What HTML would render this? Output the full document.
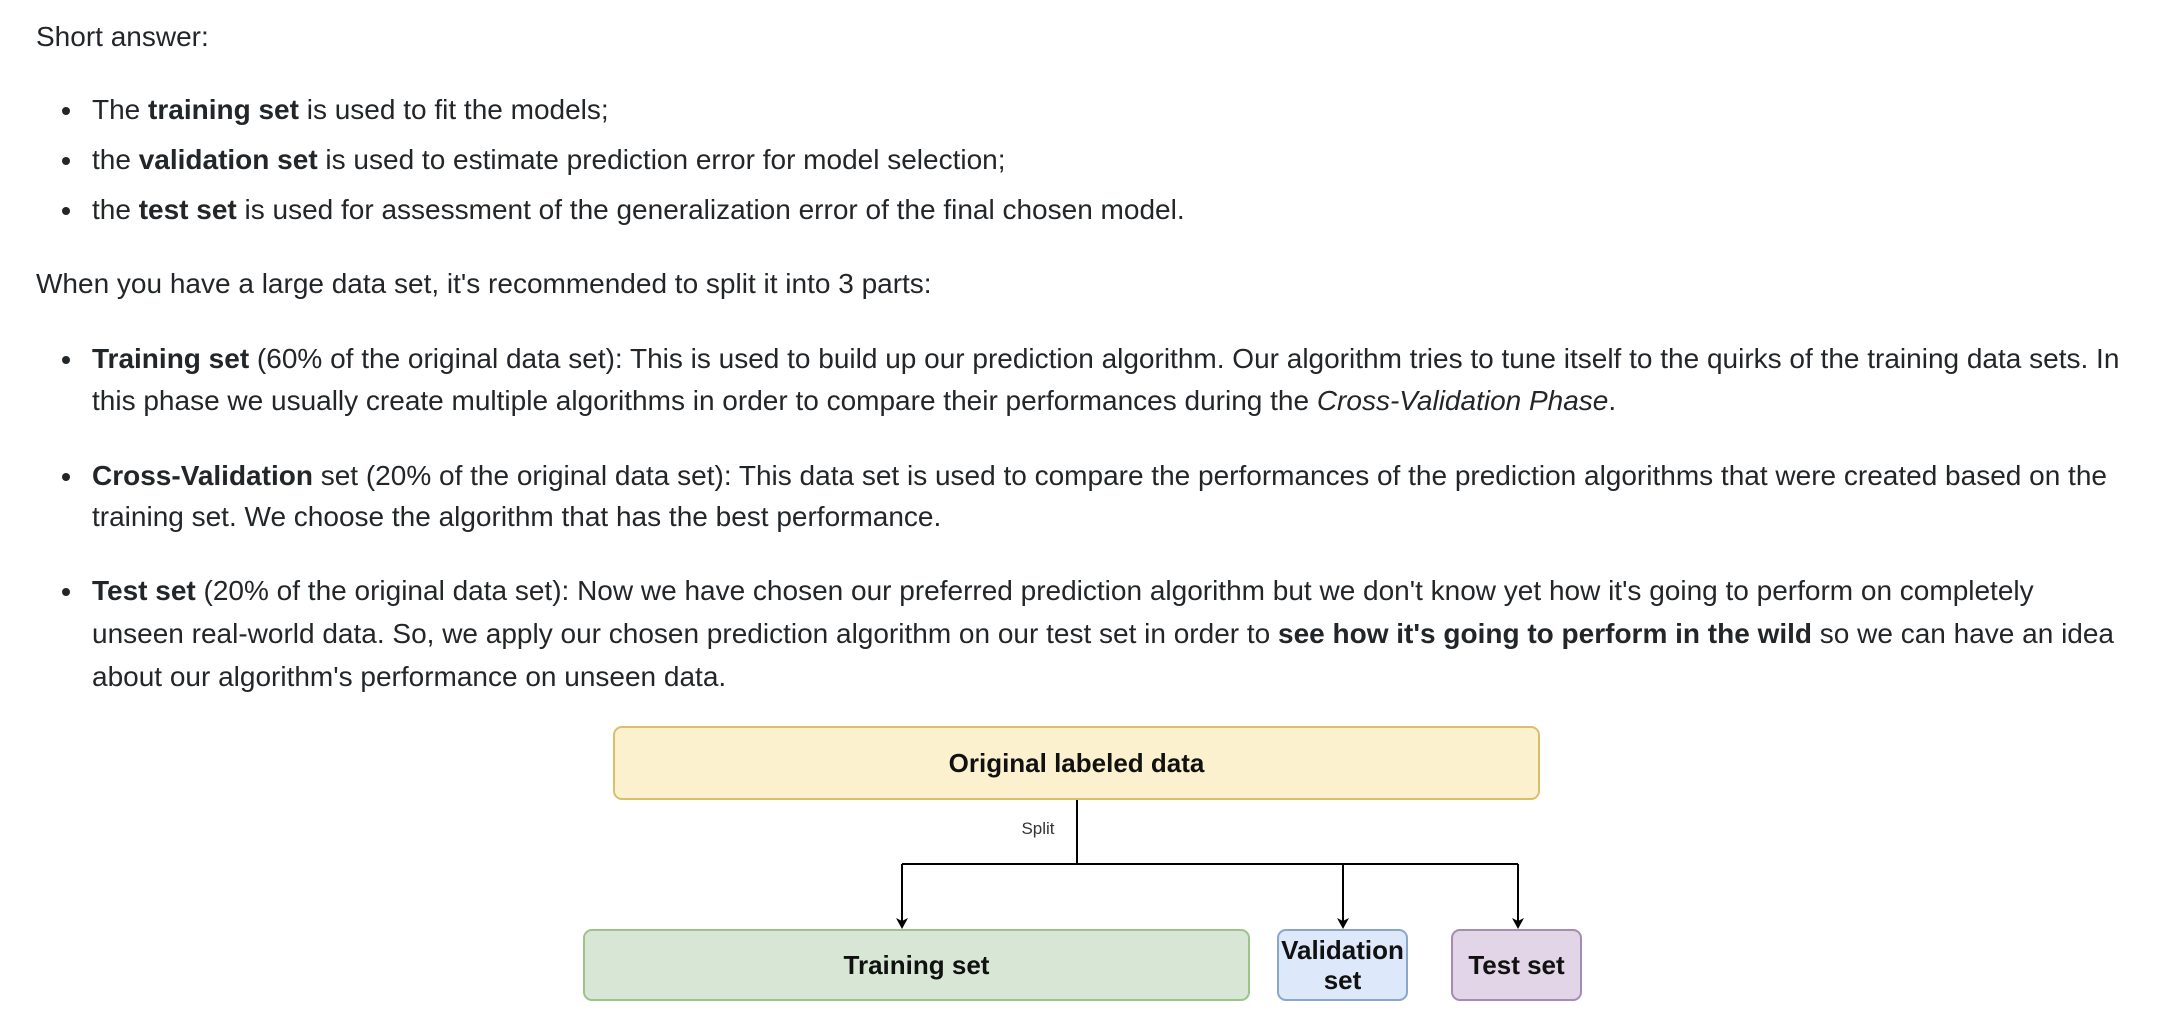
<!DOCTYPE html>
<html><head><meta charset="utf-8"><style>
html,body{margin:0;padding:0;width:2170px;height:1032px;background:#fff;overflow:hidden}
body{font-family:"Liberation Sans",Arial,sans-serif;color:#232629;font-size:28px}
.l{position:absolute;white-space:nowrap;line-height:32px;height:32px}
.b{position:absolute;width:8px;height:8px;border-radius:50%;background:#232629}
b{font-weight:bold}
.box{position:absolute;box-sizing:border-box;border:2px solid;border-radius:9px;display:flex;align-items:center;justify-content:center;text-align:center;font-weight:bold;font-size:26px;color:#111;line-height:30px}
</style></head><body>
<div class="l" style="left:36px;top:21px">Short answer:</div>

<div class="b" style="left:62px;top:107px"></div>
<div class="l" style="left:92px;top:94px">The <b>training set</b> is used to fit the models;</div>
<div class="b" style="left:62px;top:157px"></div>
<div class="l" style="left:92px;top:144px">the <b>validation set</b> is used to estimate prediction error for model selection;</div>
<div class="b" style="left:62px;top:207px"></div>
<div class="l" style="left:92px;top:194px">the <b>test set</b> is used for assessment of the generalization error of the final chosen model.</div>

<div class="l" style="left:36px;top:268px">When you have a large data set, it's recommended to split it into 3 parts:</div>

<div class="b" style="left:62px;top:356px"></div>
<div class="l" style="left:92px;top:343px"><b>Training set</b> (60% of the original data set): This is used to build up our prediction algorithm. Our algorithm tries to tune itself to the quirks of the training data sets. In</div>
<div class="l" style="left:92px;top:385px">this phase we usually create multiple algorithms in order to compare their performances during the <i>Cross-Validation Phase</i>.</div>

<div class="b" style="left:62px;top:473px"></div>
<div class="l" style="left:92px;top:460px"><b>Cross-Validation</b> set (20% of the original data set): This data set is used to compare the performances of the prediction algorithms that were created based on the</div>
<div class="l" style="left:92px;top:501px">training set. We choose the algorithm that has the best performance.</div>

<div class="b" style="left:62px;top:588px"></div>
<div class="l" style="left:92px;top:575px"><b>Test set</b> (20% of the original data set): Now we have chosen our preferred prediction algorithm but we don't know yet how it's going to perform on completely</div>
<div class="l" style="left:92px;top:618px">unseen real-world data. So, we apply our chosen prediction algorithm on our test set in order to <b>see how it's going to perform in the wild</b> so we can have an idea</div>
<div class="l" style="left:92px;top:661px">about our algorithm's performance on unseen data.</div>

<div class="box" style="left:613px;top:726px;width:927px;height:74px;background:#fcf1cf;border-color:#d9bf6a">Original labeled data</div>
<svg style="position:absolute;left:0;top:0" width="2170" height="1032">
<g stroke="#000" stroke-width="2" fill="none">
<path d="M1077 800 V864 M902 864 H1518 M902 864 V922 M1343 864 V922 M1518 864 V922"/>
</g>
<g fill="#000">
<path d="M896 918 L902 929 L908 918 L902 921Z"/>
<path d="M1337 918 L1343 929 L1349 918 L1343 921Z"/>
<path d="M1512 918 L1518 929 L1524 918 L1518 921Z"/>
</g>
<text x="1038" y="834" font-family="Liberation Sans,Arial,sans-serif" font-size="17" fill="#333" text-anchor="middle">Split</text>
</svg>
<div class="box" style="left:583px;top:929px;width:667px;height:72px;background:#d8e7d5;border-color:#9cc488">Training set</div>
<div class="box" style="left:1277px;top:929px;width:131px;height:72px;background:#dde8fa;border-color:#8aa6cf">Validation<br>set</div>
<div class="box" style="left:1451px;top:929px;width:131px;height:72px;background:#e1d5e7;border-color:#a58bb5">Test set</div>
</body></html>
